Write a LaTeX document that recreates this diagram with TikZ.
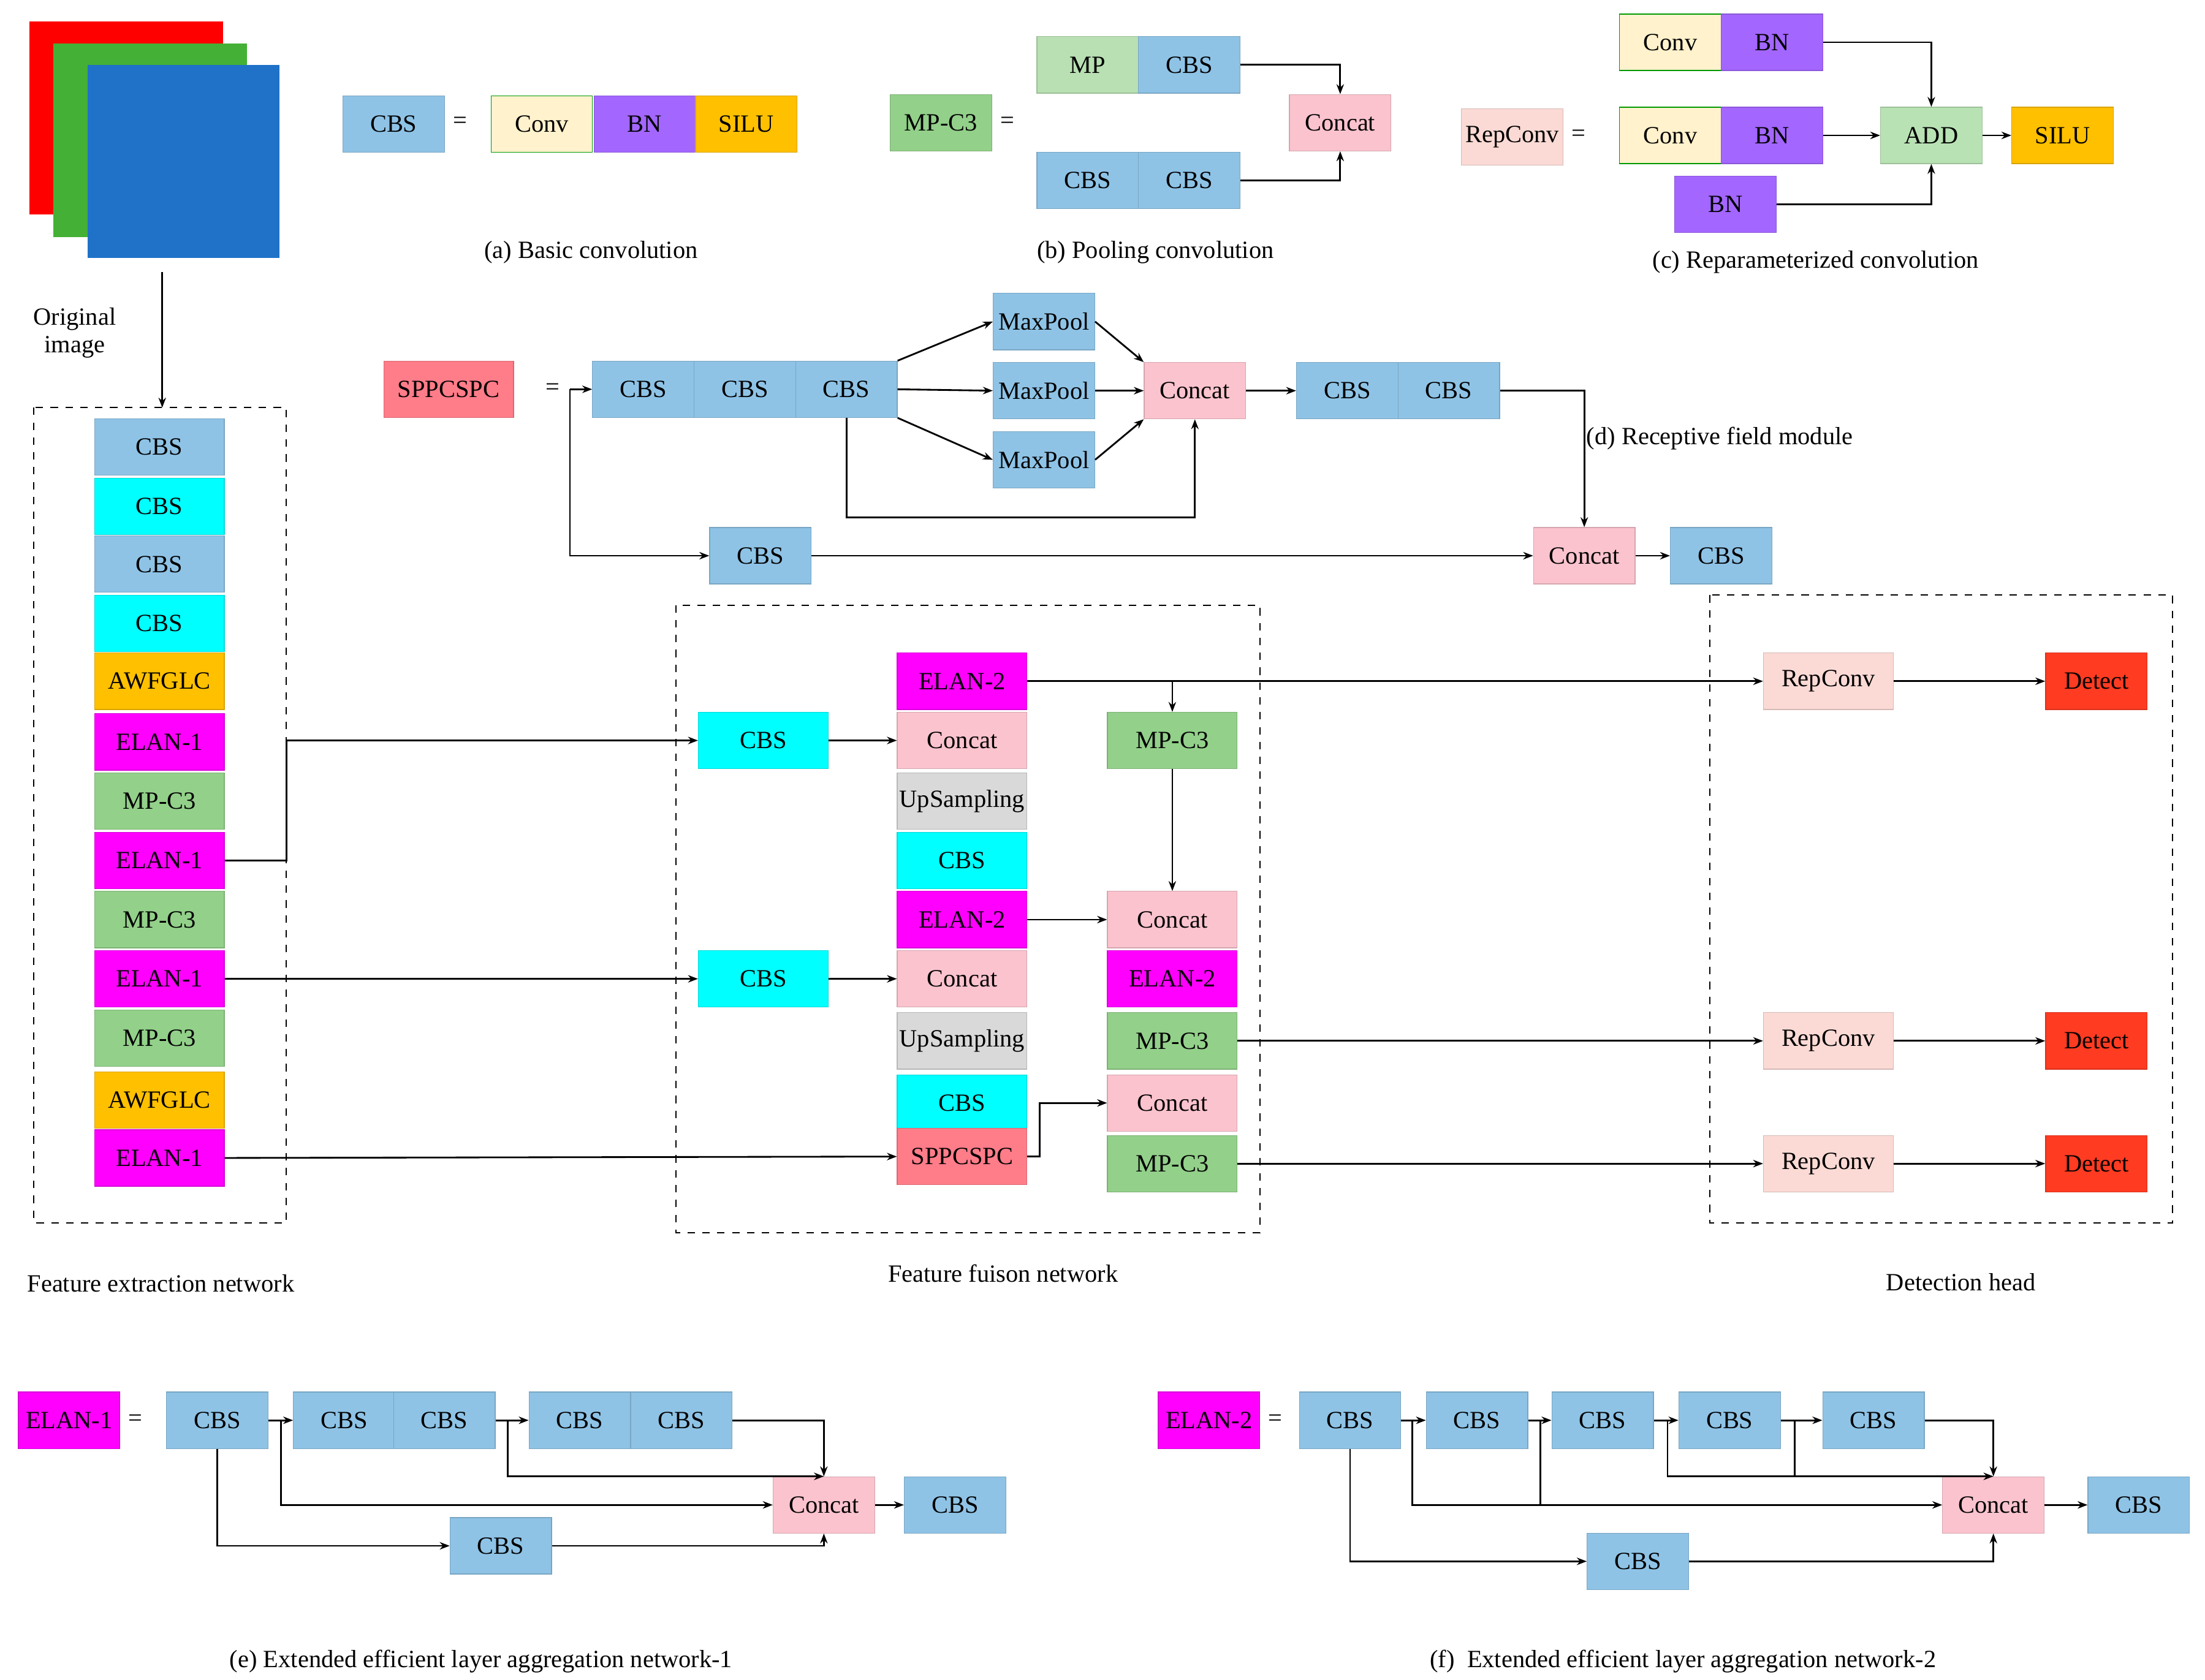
\documentclass[tikz,border=0pt]{standalone}
\usepackage{fontspec}
\setmainfont{Liberation Serif}
\usetikzlibrary{arrows.meta}
\definecolor{cbs}{HTML}{8EC3E6}
\definecolor{cy}{HTML}{00FFFF}
\definecolor{mg}{HTML}{FF00FF}
\definecolor{mpc}{HTML}{93D08A}
\definecolor{aw}{HTML}{FFC000}
\definecolor{cc}{HTML}{FBC3CE}
\definecolor{up}{HTML}{D9D9D9}
\definecolor{sp}{HTML}{FF7C89}
\definecolor{dt}{HTML}{FF3B22}
\definecolor{rp}{HTML}{FBDAD5}
\definecolor{cv}{HTML}{FFF2CC}
\definecolor{bn}{HTML}{A366FF}
\definecolor{mp}{HTML}{B8E0B2}
\definecolor{ad}{HTML}{B9E2B4}
\definecolor{imr}{HTML}{FF0000}
\definecolor{img}{HTML}{44B035}
\definecolor{imb}{HTML}{1F72C8}
\begin{document}
\begin{tikzpicture}[x=0.02cm,y=-0.02cm,font=\fontsize{10}{11}\selectfont,
  bx/.style={draw=#1!85!black,fill=#1,line width=0.3pt,minimum width=1.44cm,minimum height=0.8cm,inner sep=0pt},
  wd/.style={minimum width=1.84cm},
  ar/.style={-{Stealth[length=4pt,width=3pt]},line width=0.7pt},
  ln/.style={line width=0.7pt},
  dbox/.style={draw,dashed,line width=0.5pt}]
\useasboundingbox (0,0) rectangle (1563,1191);
% image
\fill[imr] (21,15) rectangle (158,152);
\fill[img] (38,31) rectangle (175,168);
\fill[imb] (62,46) rectangle (198,183);
\node[align=center] (ot) at (53,236) {Original\\image};
\coordinate (imgb) at (115,193);
% (a)
\node[bx=cbs] (aC) at (279,88) {CBS};
\node (aeq) at (326,87) {=};
\node[bx=cv,draw=green!60!black] (aconv) at (384,88) {Conv};
\node[bx=bn] (abn) at (457,88) {BN};
\node[bx=aw] (asi) at (529,88) {SILU};
\node (acap) at (419,179) {(a) Basic convolution};
% (b)
\node[bx=mpc] (bM) at (667,87) {MP-C3};
\node (beq) at (714,87) {=};
\node[bx=mp] (bmp) at (771,46) {MP};
\node[bx=cbs] (bc1) at (843,46) {CBS};
\node[bx=cbs] (bc2) at (771,128) {CBS};
\node[bx=cbs] (bc3) at (843,128) {CBS};
\node[bx=cc] (bcc) at (950,87) {Concat};
\draw[ar] (bc1.east) -| (bcc.north);
\draw[ar] (bc3.east) -| (bcc.south);
\node (bcap) at (819,179) {(b) Pooling convolution};
% (c)
\node[bx=rp] (cR) at (1072,97) {RepConv};
\node (ceq) at (1119,96) {=};
\node[bx=cv,draw=green!60!black] (cv1) at (1184,30) {Conv};
\node[bx=bn] (cb1) at (1256,30) {BN};
\node[bx=cv,draw=green!60!black] (cv2) at (1184,96) {Conv};
\node[bx=bn] (cb2) at (1256,96) {BN};
\node[bx=bn] (cb3) at (1223,145) {BN};
\node[bx=ad] (cad) at (1369,96) {ADD};
\node[bx=aw] (csi) at (1462,96) {SILU};
\draw[ar] (cb1.east) -| (cad.north);
\draw[ar] (cb2.east) -- (cad.west);
\draw[ar] (cb3.east) -| (cad.south);
\draw[ar] (cad.east) -- (csi.west);
\node (ccap) at (1287,186) {(c) Reparameterized convolution};
% (d)
\node[bx=sp,wd] (dS) at (318,276) {SPPCSPC};
\node (deq) at (392,276) {=};
\node[bx=cbs] (d1) at (456,276) {CBS};
\node[bx=cbs] (d2) at (528,276) {CBS};
\node[bx=cbs] (d3) at (600,276) {CBS};
\node[bx=cbs] (m1) at (740,228) {MaxPool};
\node[bx=cbs] (m2) at (740,277) {MaxPool};
\node[bx=cbs] (m3) at (740,326) {MaxPool};
\node[bx=cc] (dcc) at (847,277) {Concat};
\node[bx=cbs] (d4) at (955,277) {CBS};
\node[bx=cbs] (d5) at (1027,277) {CBS};
\node[bx=cc] (dcc2) at (1123,394) {Concat};
\node[bx=cbs] (d6) at (1220,394) {CBS};
\node[bx=cbs] (d7) at (539,394) {CBS};
\coordinate (dl) at (404,276);
\draw[ar] (d3.north east) -- (m1.west);
\draw[ar] (d3.east) -- (m2.west);
\draw[ar] (d3.south east) -- (m3.west);
\draw[ar] (m1.east) -- (dcc.north west);
\draw[ar] (m2.east) -- (dcc.west);
\draw[ar] (m3.east) -- (dcc.south west);
\draw[ar] (d3.south) -- (600,367) -| (dcc.south);
\draw[ar] (dcc.east) -- (d4.west);
\draw[ar] (d5.east) -| (dcc2.north);
\draw[ar] (dl) -- (d1.west);
\draw[ar] (dl) |- (d7.west);
\draw[ar] (d7.east) -- (dcc2.west);
\draw[ar] (dcc2.east) -- (d6.west);
\node (dcap) at (1219,311) {(d) Receptive field module};
% backbone
\draw[dbox] (24,289) rectangle (203,867);
\node[bx=cbs,wd] (e1) at (113,317) {CBS};
\node[bx=cy,wd] (e2) at (113,359) {CBS};
\node[bx=cbs,wd] (e3) at (113,400) {CBS};
\node[bx=cy,wd] (e4) at (113,442) {CBS};
\node[bx=aw,wd] (e5) at (113,483) {AWFGLC};
\node[bx=mg,wd] (e6) at (113,526) {ELAN-1};
\node[bx=mpc,wd] (e7) at (113,568) {MP-C3};
\node[bx=mg,wd] (e8) at (113,610) {ELAN-1};
\node[bx=mpc,wd] (e9) at (113,652) {MP-C3};
\node[bx=mg,wd] (e10) at (113,694) {ELAN-1};
\node[bx=mpc,wd] (e11) at (113,736) {MP-C3};
\node[bx=aw,wd] (e12) at (113,780) {AWFGLC};
\node[bx=mg,wd] (e13) at (113,821) {ELAN-1};
\draw[ar] (imgb) -- (115,289);
\node (fcap1) at (114,910) {Feature extraction network};
% neck
\draw[dbox] (479,429) rectangle (893,874);
\node[bx=mg,wd] (n1) at (682,483) {ELAN-2};
\node[bx=cc,wd] (n2) at (682,525) {Concat};
\node[bx=up,wd] (n3) at (682,568) {UpSampling};
\node[bx=cy,wd] (n4) at (682,610) {CBS};
\node[bx=mg,wd] (n5) at (682,652) {ELAN-2};
\node[bx=cc,wd] (n6) at (682,694) {Concat};
\node[bx=up,wd] (n7) at (682,738) {UpSampling};
\node[bx=cy,wd] (n8) at (682,782) {CBS};
\node[bx=sp,wd] (n9) at (682,820) {SPPCSPC};
\node[bx=cy,wd] (c1) at (541,525) {CBS};
\node[bx=cy,wd] (c2) at (541,694) {CBS};
\node[bx=mpc,wd] (r1) at (831,525) {MP-C3};
\node[bx=cc,wd] (r2) at (831,652) {Concat};
\node[bx=mg,wd] (r3) at (831,694) {ELAN-2};
\node[bx=mpc,wd] (r4) at (831,738) {MP-C3};
\node[bx=cc,wd] (r5) at (831,782) {Concat};
\node[bx=mpc,wd] (r6) at (831,825) {MP-C3};
\node (fcap2) at (711,903) {Feature fuison network};
% head
\draw[dbox] (1212,422) rectangle (1540,867);
\node[bx=rp,wd] (h1) at (1296,483) {RepConv};
\node[bx=rp,wd] (h2) at (1296,738) {RepConv};
\node[bx=rp,wd] (h3) at (1296,825) {RepConv};
\node[bx=dt] (t1) at (1486,483) {Detect};
\node[bx=dt] (t2) at (1486,738) {Detect};
\node[bx=dt] (t3) at (1486,825) {Detect};
\node (fcap3) at (1390,909) {Detection head};
% neck connections
\draw[ar] (e8.east) -- (203,610) |- (c1.west);
\draw[ar] (c1.east) -- (n2.west);
\draw[ar] (e10.east) -- (c2.west);
\draw[ar] (c2.east) -- (n6.west);
\draw[ar] (e13.east) -- (n9.west);
\draw[ar] (n9.east) -- (737,820) |- (r5.west);
\draw[ar] (n1.east) -- (h1.west);
\draw[ar] (831,483) -- (r1.north);
\draw[ar] (r1.south) -- (r2.north);
\draw[ar] (n5.east) -- (r2.west);
\draw[ar] (r4.east) -- (h2.west);
\draw[ar] (r6.east) -- (h3.west);
\draw[ar] (h1.east) -- (t1.west);
\draw[ar] (h2.east) -- (t2.west);
\draw[ar] (h3.east) -- (t3.west);
% (e)
\node[bx=mg] (E) at (49,1007) {ELAN-1};
\node (eeq) at (96,1007) {=};
\node[bx=cbs] (x1) at (154,1007) {CBS};
\node[bx=cbs] (x2) at (244,1007) {CBS};
\node[bx=cbs] (x3) at (315,1007) {CBS};
\node[bx=cbs] (x4) at (411,1007) {CBS};
\node[bx=cbs] (x5) at (483,1007) {CBS};
\node[bx=cc] (xc) at (584,1067) {Concat};
\node[bx=cbs] (x6) at (677,1067) {CBS};
\node[bx=cbs] (x7) at (355,1096) {CBS};
\draw[ar] (x1.east) -- (x2.west);
\draw[ar] (199,1007) |- (xc.west);
\draw[ar] (x3.east) -- (x4.west);
\draw[ar] (360,1007) |- (xc.north);
\draw[ar] (x5.east) -| (xc.north);
\draw[ar] (x1.south) |- (x7.west);
\draw[ar] (x7.east) -| (xc.south);
\draw[ar] (xc.east) -- (x6.west);
\node (ecap) at (341,1178) {(e) Extended efficient layer aggregation network-1};
% (f)
\node[bx=mg] (F) at (857,1007) {ELAN-2};
\node (feq) at (904,1007) {=};
\node[bx=cbs] (y1) at (957,1007) {CBS};
\node[bx=cbs] (y2) at (1047,1007) {CBS};
\node[bx=cbs] (y3) at (1136,1007) {CBS};
\node[bx=cbs] (y4) at (1226,1007) {CBS};
\node[bx=cbs] (y5) at (1328,1007) {CBS};
\node[bx=cc] (yc) at (1413,1067) {Concat};
\node[bx=cbs] (y6) at (1516,1067) {CBS};
\node[bx=cbs] (y7) at (1161,1107) {CBS};
\draw[ar] (y1.east) -- (y2.west);
\draw[ar] (1001,1007) |- (yc.west);
\draw[ar] (y2.east) -- (y3.west);
\draw[ln] (1092,1007) -- (1092,1067);
\draw[ar] (y3.east) -- (y4.west);
\draw[ar] (1182,1007) |- (yc.north);
\draw[ln] (1272,1007) -- (1272,1047);
\draw[ar] (y4.east) -- (y5.west);
\draw[ar] (y5.east) -| (yc.north);
\draw[ar] (y1.south) |- (y7.west);
\draw[ar] (y7.east) -| (yc.south);
\draw[ar] (yc.east) -- (y6.west);
\node (fcap) at (1193,1178) {(f)\ \ Extended efficient layer aggregation network-2};
\end{tikzpicture}
\end{document}
